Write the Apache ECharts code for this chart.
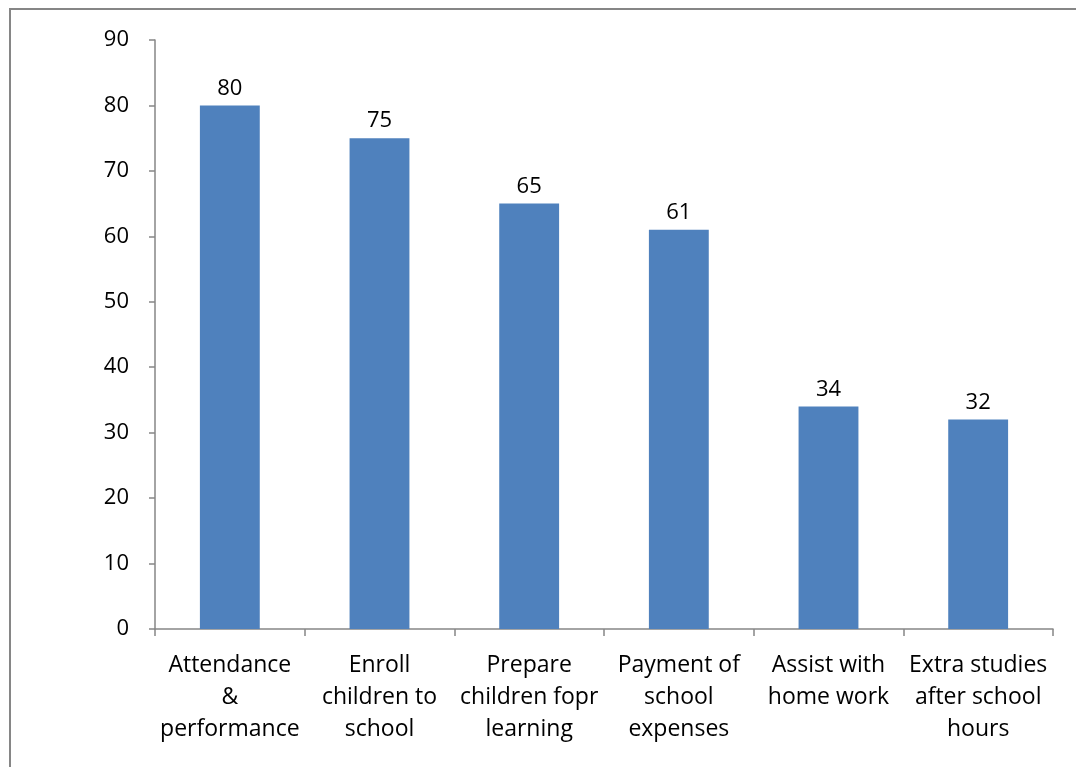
<!DOCTYPE html>
<html>
<head>
<meta charset="utf-8">
<script src="https://cdn.jsdelivr.net/npm/echarts@6/dist/echarts.min.js"></script>
<style>html,body{margin:0;padding:0;background:#fff}#c{width:1076px;height:767px}</style>
</head>
<body>
<div id="c"></div>
<script>
var categories = ["Attendance\n&\nperformance", "Enroll\nchildren to\nschool", "Prepare\nchildren fopr\nlearning", "Payment of\nschool\nexpenses", "Assist with\nhome work", "Extra studies\nafter school\nhours"];
var values = [80, 75, 65, 61, 34, 32];
var yTicks = {min: 0, max: 90, interval: 10};

var chart = echarts.init(document.getElementById('c'));
var font = '"Open Sans", sans-serif';
chart.setOption({
  animation: false,
  backgroundColor: '#fff',
  graphic: [{
    type: 'rect', shape: {x: 10, y: 9, width: 1100, height: 800},
    style: {fill: 'none', stroke: '#868686', lineWidth: 2}, silent: true
  }],
  grid: {left: 155, right: 23, top: 40, bottom: 138},
  xAxis: {
    type: 'category', data: categories,
    axisLine: {lineStyle: {color: '#868686', width: 1.5}},
    axisTick: {show: true, length: 7, lineStyle: {color: '#868686', width: 1.5}},
    axisLabel: {color: '#000', fontFamily: font, fontSize: 23, lineHeight: 32, margin: 20, interval: 0}
  },
  yAxis: {
    type: 'value', min: yTicks.min, max: yTicks.max, interval: yTicks.interval,
    splitLine: {show: false},
    axisLine: {show: true, lineStyle: {color: '#868686', width: 1.5}},
    axisTick: {show: true, length: 6, lineStyle: {color: '#868686', width: 1.5}},
    axisLabel: {color: '#000', fontFamily: font, fontSize: 22, margin: 26}
  },
  series: [{
    type: 'bar', data: values, barWidth: '40%',
    itemStyle: {color: '#4F81BD'},
    label: {show: true, position: 'top', distance: 6, color: '#000', fontFamily: font, fontSize: 22}
  }]
});
</script>
</body>
</html>
